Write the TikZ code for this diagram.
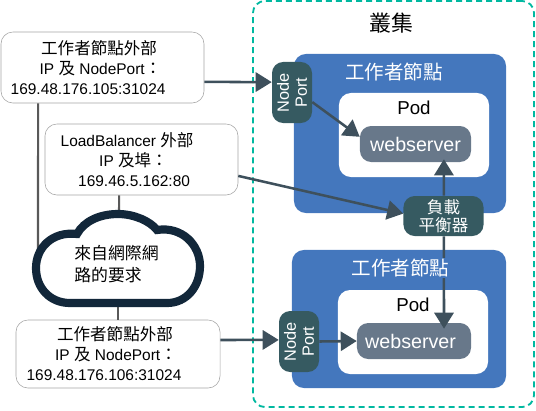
\documentclass[tikz,border=0pt]{standalone}
\usepackage{fontspec}
\setmainfont{Liberation Sans}
\newfontfamily\cjk[Scale=1.07]{Noto Sans CJK TC}
\newcommand{\zh}[1]{{\cjk #1}}
\usetikzlibrary{arrows.meta}
\definecolor{tealdash}{HTML}{00B8A0}
\definecolor{workerblue}{HTML}{4477BD}
\definecolor{portgreen}{HTML}{365A61}
\definecolor{serverslate}{HTML}{68788A}
\definecolor{wirecolor}{HTML}{3E505C}
\definecolor{cloudnavy}{HTML}{12273A}
\tikzset{
  infobox/.style={draw=black!35, fill=white, rounded corners=0.3cm, align=center, inner sep=0pt,
    font=\fontsize{11}{14.2}\selectfont},
  workerbox/.style={fill=workerblue, rounded corners=0.3cm},
  podbox/.style={fill=white, rounded corners=0.3cm, minimum width=3.75cm, minimum height=2.1cm},
  serverbox/.style={fill=serverslate, text=white, rounded corners=0.28cm, minimum height=0.9cm,
    font=\fontsize{14}{16}\selectfont},
  portbox/.style={fill=portgreen, text=white, rounded corners=0.28cm, rotate=90, align=center, inner sep=0pt,
    minimum width=1.525cm, minimum height=1cm, font=\fontsize{11.6}{12.8}\selectfont},
  wire/.style={line width=1.8pt, draw=wirecolor, -{Triangle[length=0.4cm,width=0.48cm]}},
  netline/.style={line width=1.5pt, draw=black!65},
  workertitle/.style={text=white, fill=workerblue, inner sep=1pt, font=\fontsize{13}{15}\selectfont},
  podtitle/.style={font=\fontsize{13.3}{15}\selectfont}
}
\begin{document}
\begin{tikzpicture}[x=0.025cm, y=-0.025cm]
    \useasboundingbox (0,0) rectangle (536,410);

    % --- cluster ---
    \node[draw=tealdash, line width=1.3pt, dash pattern=on 0.15cm off 0.1cm, rounded corners=0.3cm,
      minimum width=7.025cm, minimum height=10.15cm] (cluster) at (393.5,204) {};
    \node[font=\fontsize{14.6}{16}\selectfont] (clustertitle) at (391,23) {\zh{叢集}};

    % --- upper worker ---
    \node[workerbox, minimum width=5.3cm, minimum height=3.975cm] (workerA) at (400,133.5) {};
    \node[podbox] (podA) at (414,135) {};
    \node[podtitle] (podtitleA) at (414,108) {Pod};
    \node[serverbox, minimum width=2.775cm] (serverA) at (415.5,144) {webserver};
    \node[portbox] (portA) at (292,92.5) {Node\\Port};
    \node[workertitle] (workertitleA) at (394,72) {\zh{工作者節點}};

    % --- lower worker ---
    \node[workerbox, minimum width=5.35cm, minimum height=3.45cm] (workerB) at (399,319) {};
    \node[podbox] (podB) at (413,332) {};
    \node[podtitle] (podtitleB) at (413,305) {Pod};
    \node[serverbox, minimum width=2.85cm] (serverB) at (414,341) {webserver\hspace*{0.17cm}};
    \node[portbox] (portB) at (299,341.5) {Node\\Port};

    % --- load balancer ---
    \node[fill=portgreen, text=white, rounded corners=0.28cm, align=center, inner sep=0pt,
      minimum width=2cm, minimum height=1cm, font=\fontsize{11}{12.6}\selectfont] (balancer) at (443.5,216)
      {\zh{負載}\\\zh{平衡器}};

    % --- info boxes ---
    \node[infobox, minimum width=5.075cm, minimum height=1.775cm] (boxA) at (102.5,67.5)
      {\zh{工作者節點外部}\hspace*{0.17cm}\\\mbox{IP \zh{及} NodePort\zh{：}\kern0.1cm}\\169.48.176.105:31024\hspace*{0.72cm}};
    \node[infobox, minimum width=4.825cm, minimum height=1.775cm] (boxB) at (141.5,159.5)
      {LoadBalancer \zh{外部}\hspace*{0.72cm}\\\mbox{IP \zh{及埠：}\kern0.4cm}\\169.46.5.162:80\hspace*{0.37cm}};
    \node[infobox, minimum width=5.1cm, minimum height=1.7cm] (boxC) at (118,354)
      {\zh{工作者節點外部}\hspace*{0.15cm}\\\mbox{IP \zh{及} NodePort\zh{：}\kern0.1cm}\\169.48.176.106:31024\hspace*{0.7cm}};

    % --- lines into the cloud ---
    \coordinate (cloudleft) at (38,250);
    \coordinate (cloudtop) at (119,222);
    \coordinate (cloudbottom) at (118,303);
    \draw[netline] ([xshift=-1.61cm]boxA.south) -- (cloudleft);
    \draw[netline] ([xshift=-0.56cm]boxB.south) -- (cloudtop);
    \draw[netline] (cloudbottom) -- (boxC.north);

    % --- cloud ---
    \draw[line width=5.8pt, draw=cloudnavy, fill=white] (70,303) -- (167,303)
      .. controls (187,303) and (200,286) .. (200,266)
      .. controls (200,245) and (182,226) .. (157,230)
      .. controls (150,221) and (134,214) .. (118,214)
      .. controls (100,214) and (84,221) .. (77,234)
      .. controls (52,231) and (36,248) .. (36,268)
      .. controls (36,288) and (50,303) .. (70,303) -- cycle;
    \node[align=left, inner sep=0pt, font=\fontsize{11.2}{15.6}\selectfont] (cloudtext) at (116.5,264)
      {\zh{來自網際網}\\\zh{路的要求}};

    % --- connectors ---
    \draw[wire] ([yshift=-0.36cm]boxA.east) -- ([yshift=0.26cm]portA.north);
    \draw[wire] ([yshift=-0.41cm]boxB.east) -- ([yshift=0.06cm]balancer.west);
    \draw[wire] ([yshift=0.35cm]boxC.east) -- ([yshift=0.04cm]portB.north);
    \draw[wire] ([yshift=-0.24cm]portA.south) -- ([yshift=0.18cm]serverA.west);
    \draw[wire] (portB.south) -- (serverB.west);
    \draw[wire] ([xshift=0.01cm]balancer.north) -- ([xshift=0.71cm,yshift=0.075cm]serverA.south);
    \draw[wire] ([xshift=0.01cm]balancer.south) -- ([xshift=0.75cm,yshift=-0.15cm]serverB.north);

    % --- title sits over the line ---
    \node[workertitle] (workertitleB) at (400.5,268) {\zh{工作者節點}};
\end{tikzpicture}
\end{document}
